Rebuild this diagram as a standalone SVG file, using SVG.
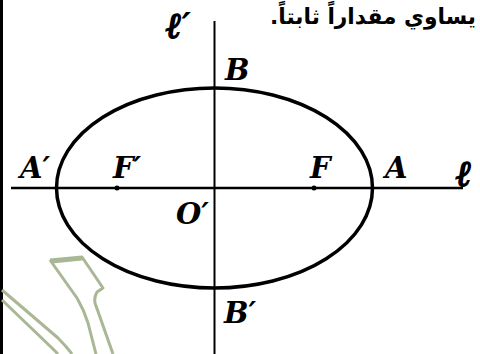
<svg xmlns="http://www.w3.org/2000/svg" width="480" height="354" viewBox="0 0 480 354">
<style>
.lbl{font-family:"DejaVu Serif","Liberation Serif",serif;font-weight:bold;font-style:italic;font-size:29px;fill:#000}
.ell{font-family:"DejaVu Serif","Liberation Serif",serif;font-weight:bold;font-style:italic;font-size:36px;fill:#000;stroke:#000;stroke-width:1.6}
.pr{stroke:none}
.ar{font-family:"DejaVu Sans","Noto Sans",sans-serif;font-weight:bold;font-size:22px;fill:#000}
.wm{fill:none;stroke:#a9b795;stroke-width:3;stroke-linejoin:round}
</style>
<rect width="480" height="354" fill="#fff"/>
<rect x="0" y="0" width="3" height="354" fill="#000"/>
<g id="watermark">
<path class="wm" d="M50,260 L82,257 L103,288 L97,292 Q94,297 95,303 L113,354"/>
<path class="wm" d="M50,260 L77,298 Q84,310 88,323 L96,354"/>
<path class="wm" stroke-width="5" d="M52,262 L82,259"/>
<path class="wm" d="M2,290 L58,338 Q66,346 72,354"/>
<path class="wm" d="M2,300 L52,348 L58,354"/>
</g>
<text class="ar" x="476" y="24" direction="rtl" text-anchor="start" textLength="206" lengthAdjust="spacingAndGlyphs">يساوي مقداراً ثابتاً.</text>
<g id="connectors">
<line x1="214.5" y1="21" x2="214.5" y2="354" stroke="#000" stroke-width="2"/>
<line x1="11" y1="188" x2="463" y2="188" stroke="#000" stroke-width="2.5"/>
</g>
<g id="ellipse">
<ellipse cx="214.5" cy="188" rx="158" ry="100" fill="none" stroke="#000" stroke-width="3.5"/>
</g>
<g id="foci">
<circle cx="117" cy="188" r="2.5" fill="#000"/>
<circle cx="314" cy="188" r="2.5" fill="#000"/>
</g>
<g id="labels">
<text class="ell" x="166" y="38">ℓ<tspan class="pr">′</tspan></text>
<text class="lbl" x="225" y="80">B</text>
<text class="lbl" x="20" y="178">A′</text>
<text class="lbl" x="113" y="178">F′</text>
<text class="lbl" x="310" y="178">F</text>
<text class="lbl" x="385" y="178">A</text>
<text class="ell" x="456" y="186">ℓ</text>
<text class="lbl" x="176" y="224">O′</text>
<text class="lbl" x="224" y="323">B′</text>
</g>
</svg>
